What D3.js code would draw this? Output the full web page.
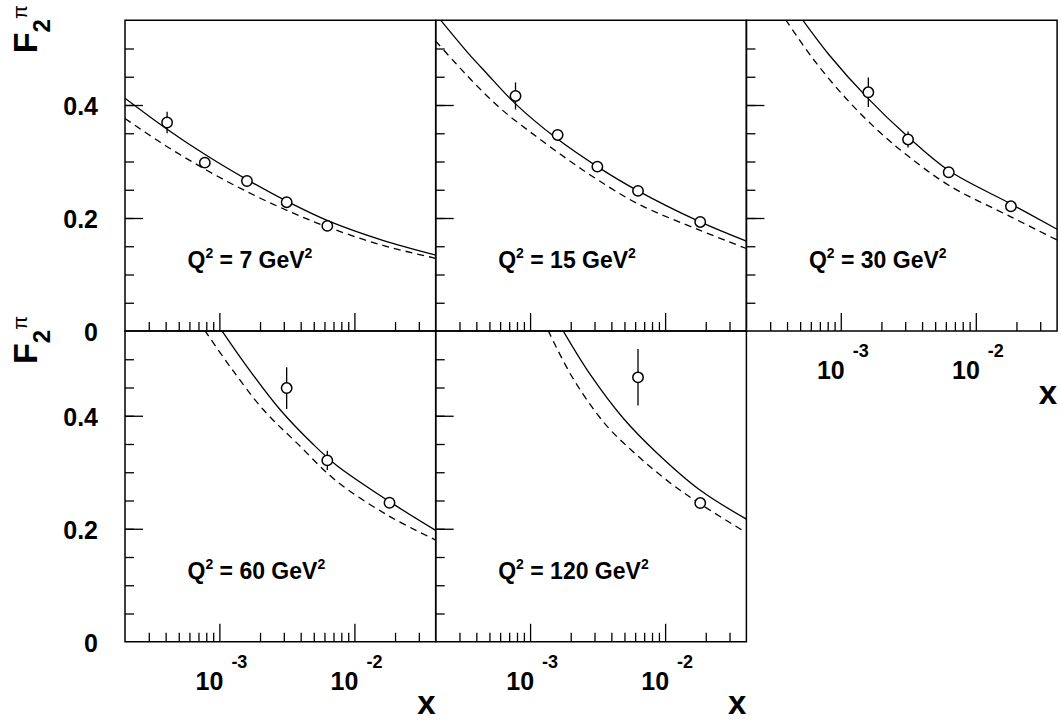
<!DOCTYPE html>
<html>
<head>
<meta charset="utf-8">
<script src="https://cdn.jsdelivr.net/npm/d3@7"></script>
<style>
body { margin: 0; background: white; }
text { font-family: "Liberation Sans", Arial, Helvetica, sans-serif; font-weight: bold; fill: black; }
</style>
</head>
<body>
<div id="container"></div>
<script>
const width = 1061;
const height = 722;

// Q^2 of each panel (GeV^2)
const q2Values = [7, 15, 30, 60, 120];

// measured points, one list per panel
const pointX = [
  [4.1e-4, 7.8e-4, 1.6e-3, 3.15e-3, 6.3e-3],
  [7.8e-4, 1.6e-3, 3.15e-3, 6.3e-3, 1.82e-2],
  [1.6e-3, 3.15e-3, 6.3e-3, 1.82e-2],
  [3.15e-3, 6.3e-3, 1.82e-2],
  [6.3e-3, 1.82e-2]
];
const pointF = [
  [0.369, 0.298, 0.2655, 0.228, 0.186],
  [0.416, 0.347, 0.291, 0.248, 0.193],
  [0.4225, 0.339, 0.281, 0.2207],
  [0.449, 0.321, 0.246],
  [0.468, 0.2455]
];
const pointErr = [
  [0.019, 0.005, 0.005, 0.005, 0.005],
  [0.024, 0.008, 0.005, 0.005, 0.005],
  [0.026, 0.014, 0.006, 0.006],
  [0.037, 0.017, 0.006],
  [0.05, 0.007]
];

// solid curves
const fullX = [
  [2e-4, 4e-4, 8e-4, 1.6e-3, 3.2e-3, 6.4e-3, 1.6e-2, 4e-2],
  [2.16e-4, 3.53e-4, 4.69e-4, 7.8e-4, 1.57e-3, 3.15e-3, 6.3e-3, 1.82e-2, 4e-2],
  [5.2e-4, 8.18e-4, 1.57e-3, 3.1e-3, 6.3e-3, 1.82e-2, 4e-2],
  [1.04e-3, 1.6e-3, 2.81e-3, 4.97e-3, 7.4e-3, 1.82e-2, 4e-2],
  [1.75e-3, 2.77e-3, 4.88e-3, 8.62e-3, 1.8e-2, 4e-2]
];
const fullF = [
  [0.412, 0.359, 0.311, 0.268, 0.229, 0.195, 0.161, 0.1345],
  [0.551, 0.490, 0.458, 0.402, 0.341, 0.291, 0.248, 0.193, 0.159],
  [0.551, 0.489, 0.413, 0.345, 0.284, 0.225, 0.180],
  [0.551, 0.487, 0.411, 0.349, 0.312, 0.248, 0.197],
  [0.551, 0.474, 0.396, 0.335, 0.269, 0.217]
];

// dashed curves
const dashX = [
  [2e-4, 4e-4, 8e-4, 1.6e-3, 3.2e-3, 6.4e-3, 1.6e-2, 4e-2],
  [2e-4, 2.81e-4, 3.96e-4, 6.23e-4, 1.1e-3, 1.94e-3, 3.15e-3, 6.3e-3, 1.82e-2, 4e-2],
  [3.91e-4, 6.17e-4, 1.09e-3, 1.92e-3, 3.1e-3, 6.3e-3, 1.82e-2, 4e-2],
  [7.8e-4, 1.2e-3, 2.11e-3, 3.74e-3, 7.4e-3, 1.82e-2, 4e-2],
  [1.36e-3, 2.08e-3, 3.67e-3, 6.48e-3, 1.08e-2, 1.82e-2, 4e-2]
];
const dashF = [
  [0.376, 0.328, 0.285, 0.2466, 0.213, 0.1836, 0.152, 0.1287],
  [0.513, 0.474, 0.436, 0.391, 0.345, 0.302, 0.268, 0.225, 0.178, 0.146],
  [0.551, 0.483, 0.412, 0.353, 0.311, 0.258, 0.202, 0.161],
  [0.551, 0.487, 0.411, 0.352, 0.284, 0.222, 0.18],
  [0.551, 0.466, 0.383, 0.326, 0.282, 0.244, 0.193]
];

// tick labels
const xLabelValues = [1e-3, 1e-2];
const xLabelExponents = ["-3", "-2"];
const yLabelValues = [0, 0.2, 0.4];
const yLabelTexts = ["0", "0.2", "0.4"];

// layout
const left0 = 125, top0 = 20.25;
const panelW = 310.7, panelH = 310.75;
const panelPos = [[0, 0], [1, 0], [2, 0], [0, 1], [1, 1]]; // [col, row]

const x = d3.scaleLog().domain([2e-4, 4e-2]).range([0, panelW]);
const y = d3.scaleLinear().domain([0, 0.55]).range([panelH, 0]);

const minorX = [];
[1e-4, 1e-3, 1e-2].forEach(function(d) {
  for (let k = 2; k <= 9; k++) {
    let v = d * k;
    if (v > 2e-4 && v < 4e-2) minorX.push(v);
  }
});
const majorX = [1e-3, 1e-2];
const minorY = d3.range(0.05, 0.55, 0.05);
const majorY = [0.2, 0.4];

let svg = d3.select("#container")
  .append("svg")
  .attr("width", width)
  .attr("height", height)
  .style("background-color", "white");

let lineGen = d3.line()
  .x(d => x(d[0]))
  .y(d => y(d[1]))
  .curve(d3.curveCatmullRom.alpha(0.5));

for (let p = 0; p < q2Values.length; p++) {
  let col = panelPos[p][0], row = panelPos[p][1];
  let g = svg.append("g")
    .attr("transform", "translate(" + (left0 + col * panelW) + "," + (top0 + row * panelH) + ")");

  // clip
  svg.append("clipPath").attr("id", "clip" + p)
    .append("rect").attr("x", 0).attr("y", 0).attr("width", panelW).attr("height", panelH);

  // ticks (inward)
  let tickStyle = function(sel) {
    sel.select(".domain").remove();
    sel.selectAll("line").attr("stroke", "black").attr("stroke-width", 1.3);
  };
  g.append("g").call(d3.axisLeft(y).tickValues(minorY).tickSize(-9).tickFormat("")).call(tickStyle);
  g.append("g").call(d3.axisLeft(y).tickValues(majorY).tickSize(-18).tickFormat("")).call(tickStyle);
  g.append("g").attr("transform", "translate(0," + panelH + ")")
    .call(d3.axisBottom(x).tickValues(minorX).tickSize(-9).tickFormat("")).call(tickStyle);
  g.append("g").attr("transform", "translate(0," + panelH + ")")
    .call(d3.axisBottom(x).tickValues(majorX).tickSize(-18).tickFormat("")).call(tickStyle);

  // curves
  let curves = g.append("g").attr("clip-path", "url(#clip" + p + ")");
  curves.append("path")
    .attr("d", lineGen(fullX[p].map((v, i) => [v, fullF[p][i]])))
    .attr("fill", "none").attr("stroke", "black").attr("stroke-width", 1.3);
  curves.append("path")
    .attr("d", lineGen(dashX[p].map((v, i) => [v, dashF[p][i]])))
    .attr("fill", "none").attr("stroke", "black").attr("stroke-width", 1.3)
    .attr("stroke-dasharray", "7,5");

  // points with error bars
  let pts = g.selectAll(".pt").data(pointX[p].map((v, i) => ({x: v, f: pointF[p][i], e: pointErr[p][i]})))
    .enter().append("g").attr("class", "pt");
  pts.append("line")
    .attr("x1", d => x(d.x)).attr("x2", d => x(d.x))
    .attr("y1", d => y(d.f + d.e)).attr("y2", d => y(d.f - d.e))
    .attr("stroke", "black").attr("stroke-width", 1.3);
  pts.append("circle")
    .attr("cx", d => x(d.x)).attr("cy", d => y(d.f)).attr("r", 5.2)
    .attr("fill", "white").attr("stroke", "black").attr("stroke-width", 1.5);

  // frame
  g.append("rect").attr("x", 0).attr("y", 0).attr("width", panelW).attr("height", panelH)
    .attr("fill", "none").attr("stroke", "black").attr("stroke-width", 1.5);

  // Q^2 label
  let q = g.append("text").attr("x", 62.5).attr("y", y(0.111)).style("font-size", "23px");
  q.append("tspan").text("Q");
  q.append("tspan").attr("dy", -10).style("font-size", "14px").text("2");
  q.append("tspan").attr("dy", 10).text(" = " + q2Values[p] + " GeV");
  q.append("tspan").attr("dy", -10).style("font-size", "14px").text("2");

  // y labels for first column
  if (col == 0) {
    yLabelValues.forEach(function(v, i) {
      g.append("text").attr("x", -27).attr("y", y(v) + 10)
        .attr("text-anchor", "end").style("font-size", "25px").text(yLabelTexts[i]);
    });
    let t = svg.append("text")
      .attr("transform", "translate(37," + (top0 + row * panelH + 33) + ") rotate(-90)")
      .style("font-size", "34px");
    t.append("tspan").text("F");
    t.append("tspan").attr("dy", 13).style("font-size", "24px").text("2");
    t.append("tspan").attr("dy", -23).style("font-size", "20px").style("font-weight", "normal").text("\u03c0");
  }

  // x labels where no panel sits below
  let below = panelPos.some(d => d[0] == col && d[1] == row + 1);
  if (!below) {
    xLabelValues.forEach(function(v, i) {
      g.append("text").attr("x", x(v) + 4).attr("y", panelH + 48)
        .attr("text-anchor", "end").style("font-size", "25px").text("10");
      g.append("text").attr("x", x(v) + 12).attr("y", panelH + 26)
        .attr("text-anchor", "start").style("font-size", "18px").text(xLabelExponents[i]);
    });
    g.append("text").attr("x", panelW).attr("y", panelH + 72.5)
      .attr("text-anchor", "end").style("font-size", "33px").text("x");
  }
}
</script>
</body>
</html>
